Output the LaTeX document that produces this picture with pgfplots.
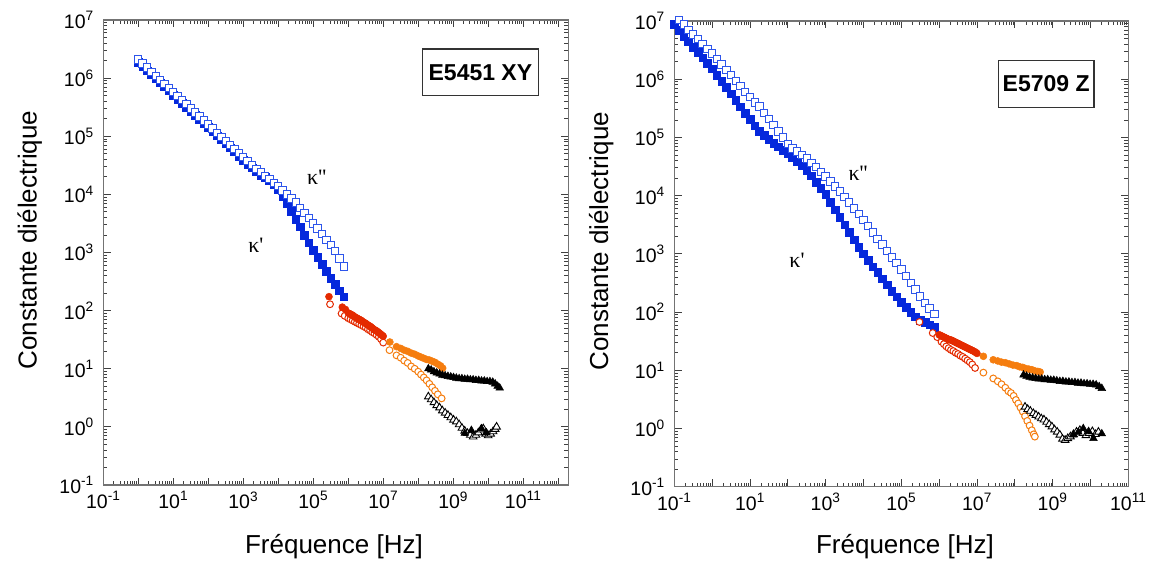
\documentclass[border=0pt]{standalone}
\usepackage{fontspec}
\setmainfont{Liberation Sans}
\newfontfamily\serifk{Liberation Serif}
\usepackage{pgfplots}
\pgfplotsset{compat=1.18}
\definecolor{blueF}{RGB}{5,40,220}
\definecolor{blueO}{RGB}{45,85,235}
\definecolor{redC}{RGB}{228,42,0}
\definecolor{oraC}{RGB}{245,125,15}
\pgfplotsset{
  fsq/.style={only marks, mark=square*, mark size=3.8pt, color=blueF, mark options={line width=0.5pt}},
  osq/.style={only marks, mark=square*, mark size=3.7pt, mark options={draw=blueO, fill=white, line width=1pt}},
  fci/.style={only marks, mark=*, mark size=3.5pt, color=#1, mark options={line width=0.5pt}},
  oci/.style={only marks, mark=*, mark size=3.4pt, mark options={draw=#1, fill=white, line width=1pt}},
  ftr/.style={only marks, mark=triangle*, mark size=4.4pt, color=black, mark options={line width=0.5pt}},
  otr/.style={only marks, mark=triangle*, mark size=4.4pt, mark options={draw=black, fill=white, line width=0.9pt}},
}
\tikzset{
  kap/.style={font=\serifk\fontsize{22}{22}\selectfont, text=black},
  tbox/.style={draw=black!80, line width=1.2pt, fill=white, inner sep=0pt, font=\bfseries\fontsize{23}{23}\selectfont},
}
\begin{document}
\begin{tikzpicture}
\useasboundingbox (0,0) rectangle (1152pt,563pt);
% ---------------- left panel ----------------
\begin{axis}[at={(103.3pt,78pt)}, anchor=south west,
  xmode=log, ymode=log, scale only axis, clip=false,
  width=465pt, height=465pt,
  xmin=0.1, xmax=1.95e12, ymin=0.1, ymax=1e7,
  xtickten={-1,0,1,2,3,4,5,6,7,8,9,10,11,12},
  xticklabels={{10\textsuperscript{-1}},{},{10\textsuperscript{1}},{},{10\textsuperscript{3}},{},{10\textsuperscript{5}},{},{10\textsuperscript{7}},{},{10\textsuperscript{9}},{},{10\textsuperscript{11}},{}},
  ytickten={-1,0,1,2,3,4,5,6,7},
  yticklabels={{10\textsuperscript{-1}},{10\textsuperscript{0}},{10\textsuperscript{1}},{10\textsuperscript{2}},{10\textsuperscript{3}},{10\textsuperscript{4}},{10\textsuperscript{5}},{10\textsuperscript{6}},{10\textsuperscript{7}}},
  axis line style={black!55, line width=1.4pt},
  every tick/.style={black!75, line width=0.8pt},
  major tick length=7.5pt, minor tick length=4pt,
  tick align=inside, xtick pos=both, ytick pos=both,
  tick label style={font=\fontsize{19.5}{20}\selectfont},
  yticklabel style={xshift=-6pt},
  xticklabel style={yshift=-3pt},
  xlabel={Fréquence [Hz]}, ylabel={Constante diélectrique},
  xlabel style={font=\fontsize{26}{30}\selectfont, at={(axis description cs:0.496,-0.133)}, anchor=center},
  ylabel style={font=\fontsize{26}{30}\selectfont, at={(axis description cs:-0.158,0.527)}, anchor=center},
]
\addplot[fsq] table {
1 1.862e6
1.334 1.585e6
1.778 1.349e6
2.371 1.148e6
3.162 9.772e5
4.217 8.318e5
5.623 7.079e5
7.499 6.026e5
10 5.129e5
13.34 4.365e5
17.78 3.715e5
23.71 3.162e5
31.62 2.692e5
42.17 2.291e5
56.23 1.950e5
74.99 1.660e5
100 1.413e5
133.4 1.202e5
177.8 1.023e5
237.1 8.710e4
316.2 7.413e4
421.7 6.310e4
562.3 5.370e4
749.9 4.571e4
1000 3.890e4
1334 3.311e4
1778 2.884e4
2371 2.455e4
3162 2.138e4
4217 1.950e4
5623 1.738e4
7499 1.479e4
1e4 1.202e4
1.334e4 9.120e3
1.778e4 6.918e3
2.371e4 5.129e3
3.162e4 3.715e3
4.217e4 2.754e3
5.623e4 1.995e3
7.499e4 1.479e3
1e5 1.096e3
1.334e5 8.318e2
1.778e5 6.310e2
2.371e5 4.786e2
3.162e5 3.631e2
4.217e5 2.818e2
5.623e5 2.188e2
7.499e5 1.738e2
};
\addplot[osq] table {
1 2.089e6
1.334 1.778e6
1.778 1.514e6
2.371 1.288e6
3.162 1.096e6
4.217 9.333e5
5.623 7.943e5
7.499 6.761e5
10 5.754e5
13.34 4.898e5
17.78 4.169e5
23.71 3.548e5
31.62 3.020e5
42.17 2.570e5
56.23 2.188e5
74.99 1.862e5
100 1.585e5
133.4 1.349e5
177.8 1.148e5
237.1 9.772e4
316.2 8.318e4
421.7 7.079e4
562.3 6.026e4
749.9 5.129e4
1000 4.365e4
1334 3.715e4
1778 3.236e4
2371 2.754e4
3162 2.399e4
4217 2.089e4
5623 1.820e4
7499 1.585e4
1e4 1.380e4
1.334e4 1.175e4
1.778e4 1.0e4
2.371e4 8.511e3
3.162e4 7.244e3
4.217e4 5.888e3
5.623e4 4.786e3
7.499e4 3.890e3
1e5 3.162e3
1.334e5 2.570e3
1.778e5 2.089e3
2.371e5 1.660e3
3.162e5 1.349e3
4.217e5 1.072e3
5.623e5 7.943e2
7.499e5 5.754e2
};
\addplot[oci=redC] table {
3.020e5 128.8
6.457e5 89.13
7.943e5 81.28
1e6 74.13
1.155e6 70.79
1.334e6 67.61
1.540e6 64.57
1.778e6 61.66
2.054e6 58.88
2.371e6 56.23
2.738e6 53.70
3.162e6 51.29
3.652e6 47.86
4.217e6 45.71
4.870e6 42.66
5.623e6 40.74
6.494e6 38.02
7.499e6 35.48
8.660e6 32.36
1e7 28.18
};
\addplot[fci=redC] table {
2.818e5 173.8
6.761e5 114.8
8.318e5 104.7
1e6 91.20
1.075e6 89.1
1.155e6 87.10
1.241e6 85.1
1.334e6 83.18
1.433e6 80.4
1.540e6 77.62
1.655e6 75.9
1.778e6 74.13
1.911e6 72.4
2.054e6 70.79
2.207e6 69.2
2.371e6 67.61
2.548e6 65.3
2.738e6 63.10
2.943e6 61.7
3.162e6 60.26
3.398e6 58.2
3.652e6 56.23
3.924e6 55.0
4.217e6 53.70
4.532e6 51.9
4.870e6 50.12
5.233e6 48.4
5.623e6 46.77
6.043e6 45.7
6.494e6 44.67
6.978e6 43.2
7.499e6 41.69
8.058e6 40.3
8.660e6 38.90
9.306e6 37.6
1e7 36.31
};
\addplot[oci=oraC] table {
1.514e7 20.89
2.399e7 16.98
3.162e7 15.49
3.981e7 13.80
5.012e7 12.59
6.310e7 10.96
7.943e7 10.0
1e8 8.913
1.202e8 7.943
1.445e8 7.079
1.738e8 6.310
2.089e8 5.495
2.512e8 4.786
3.020e8 4.169
3.631e8 3.631
4.677e8 3.090
};
\addplot[fci=oraC] table {
1.549e7 28.84
2.399e7 23.99
3.162e7 22.39
3.981e7 20.89
5.012e7 19.95
6.310e7 18.62
7.943e7 17.78
1e8 16.60
1.202e8 15.85
1.445e8 15.14
1.738e8 14.45
2.089e8 14.13
2.512e8 13.49
3.020e8 12.88
3.631e8 12.02
4.365e8 11.22
5.012e8 10.23
};
\addplot[otr] table {
1.950e8 3.311
2.344e8 2.951
2.818e8 2.630
3.388e8 2.344
4.074e8 2.138
4.898e8 1.905
5.888e8 1.738
7.079e8 1.585
8.511e8 1.445
1.023e9 1.318
1.230e9 1.230
1.479e9 1.096
1.778e9 0.9550
2.138e9 0.8511
2.570e9 0.7762
3.090e9 0.7244
3.715e9 0.6761
4.467e9 0.7244
5.248e9 0.7943
6.166e9 0.8913
7.244e9 0.9333
8.511e9 0.7586
1e10 0.7079
1.175e10 0.7586
1.380e10 0.8318
1.585e10 0.9120
1.738e10 1.0
};
\addplot[ftr] table {
1.950e8 10.0
2.344e8 9.550
2.818e8 8.913
3.388e8 8.511
4.074e8 8.128
4.898e8 7.762
5.888e8 7.586
7.079e8 7.413
8.511e8 7.244
1.023e9 7.079
1.230e9 6.918
1.479e9 6.761
1.778e9 6.761
2.138e9 6.607
2.570e9 6.607
3.090e9 6.457
3.715e9 6.457
4.467e9 6.310
5.370e9 6.310
6.457e9 6.166
7.762e9 6.166
9.333e9 6.026
1.122e10 6.026
1.349e10 5.888
1.585e10 5.495
1.862e10 5.012
2.138e10 4.677
2.138e9 0.7762
3.311e9 0.8710
6.457e9 0.9333
8.913e9 0.7943
};
\node[kap] at (axis cs:1.26e5,2.0e4) {κ''};
\node[kap] at (axis cs:2.3e3,1.35e3) {κ'};
\node[tbox, minimum width=115.6pt, minimum height=46.7pt] at (axis description cs:0.811,0.8875) {E5451 XY};
\end{axis}
% ---------------- right panel ----------------
\begin{axis}[at={(674.3pt,76.3pt)}, anchor=south west,
  xmode=log, ymode=log, scale only axis, clip=false,
  width=454pt, height=465.7pt,
  xmin=0.1, xmax=1e11, ymin=0.1, ymax=1e7,
  xtickten={-1,0,1,2,3,4,5,6,7,8,9,10,11},
  xticklabels={{10\textsuperscript{-1}},{},{10\textsuperscript{1}},{},{10\textsuperscript{3}},{},{10\textsuperscript{5}},{},{10\textsuperscript{7}},{},{10\textsuperscript{9}},{},{10\textsuperscript{11}}},
  ytickten={-1,0,1,2,3,4,5,6,7},
  yticklabels={{10\textsuperscript{-1}},{10\textsuperscript{0}},{10\textsuperscript{1}},{10\textsuperscript{2}},{10\textsuperscript{3}},{10\textsuperscript{4}},{10\textsuperscript{5}},{10\textsuperscript{6}},{10\textsuperscript{7}}},
  axis line style={black!55, line width=1.4pt},
  every tick/.style={black!75, line width=0.8pt},
  major tick length=7.5pt, minor tick length=4pt,
  tick align=inside, xtick pos=both, ytick pos=both,
  tick label style={font=\fontsize{19.5}{20}\selectfont},
  yticklabel style={xshift=-6pt},
  xticklabel style={yshift=-3pt},
  xlabel={Fréquence [Hz]}, ylabel={Constante diélectrique},
  xlabel style={font=\fontsize{26}{30}\selectfont, at={(axis description cs:0.508,-0.129)}, anchor=center},
  ylabel style={font=\fontsize{26}{30}\selectfont, at={(axis description cs:-0.161,0.527)}, anchor=center},
]
\addplot[fsq] table {
0.1 8.710e6
0.1334 6.918e6
0.1778 5.495e6
0.2371 4.467e6
0.3162 3.548e6
0.4217 2.884e6
0.5623 2.344e6
0.7499 1.862e6
1 1.514e6
1.334 1.175e6
1.778 9.333e5
2.371 7.244e5
3.162 5.623e5
4.217 4.365e5
5.623 3.388e5
7.499 2.630e5
10 2.042e5
13.34 1.585e5
17.78 1.288e5
23.71 1.096e5
31.62 9.333e4
42.17 7.943e4
56.23 6.918e4
74.99 6.026e4
100 5.248e4
133.4 4.571e4
177.8 3.802e4
237.1 3.236e4
316.2 2.754e4
421.7 2.188e4
562.3 1.698e4
749.9 1.349e4
1000 1.047e4
1334 7.762e3
1778 5.754e3
2371 4.266e3
3162 3.162e3
4217 2.344e3
5623 1.738e3
7499 1.288e3
1e4 1.0e3
1.334e4 7.762e2
1.778e4 6.026e2
2.371e4 4.786e2
3.162e4 3.715e2
4.217e4 2.951e2
5.623e4 2.291e2
7.499e4 1.820e2
1e5 1.479e2
1.334e5 1.202e2
1.778e5 1.0e2
2.371e5 83.18
3.162e5 72.44
4.217e5 66.07
5.623e5 60.26
7.499e5 54.95
};
\addplot[osq] table {
0.1334 1.047e7
0.1778 8.710e6
0.2371 7.079e6
0.3162 5.888e6
0.4217 4.898e6
0.5623 4.074e6
0.7499 3.311e6
1 2.754e6
1.334 2.239e6
1.778 1.778e6
2.371 1.445e6
3.162 1.175e6
4.217 9.333e5
5.623 7.586e5
7.499 6.026e5
10 4.898e5
13.34 3.981e5
17.78 3.388e5
23.71 2.630e5
31.62 2.089e5
42.17 1.622e5
56.23 1.259e5
74.99 1.0e5
100 7.762e4
133.4 6.457e4
177.8 5.754e4
237.1 5.012e4
316.2 4.365e4
421.7 3.631e4
562.3 3.090e4
749.9 2.570e4
1000 2.138e4
1334 1.738e4
1778 1.445e4
2371 1.175e4
3162 9.550e3
4217 7.586e3
5623 6.026e3
7499 4.786e3
1e4 3.802e3
1.334e4 3.020e3
1.778e4 2.344e3
2.371e4 1.820e3
3.162e4 1.445e3
4.217e4 1.122e3
5.623e4 8.710e2
7.499e4 6.918e2
1e5 5.370e2
1.334e5 4.169e2
1.778e5 3.162e2
2.371e5 2.455e2
3.162e5 1.862e2
4.217e5 1.445e2
5.623e5 1.148e2
7.499e5 93.33
};
\addplot[oci=redC] table {
3.020e5 67.61
6.761e5 43.65
8.913e5 37.15
1.155e6 30.90
1.334e6 28.18
1.540e6 25.70
1.778e6 23.99
2.054e6 22.39
2.371e6 21.38
2.738e6 19.95
3.162e6 19.05
3.652e6 17.78
4.217e6 16.98
4.870e6 15.85
5.623e6 14.79
6.494e6 13.80
7.499e6 12.59
8.913e6 10.96
};
\addplot[fci=redC] table {
1e6 40.74
1.075e6 39.8
1.155e6 38.90
1.241e6 38.0
1.334e6 37.15
1.433e6 36.3
1.540e6 35.48
1.655e6 34.7
1.778e6 33.88
1.911e6 33.5
2.054e6 33.11
2.207e6 32.4
2.371e6 31.62
2.548e6 30.9
2.738e6 30.20
2.943e6 29.5
3.162e6 28.84
3.398e6 28.2
3.652e6 27.54
3.924e6 26.9
4.217e6 26.30
4.532e6 25.7
4.870e6 25.12
5.233e6 24.5
5.623e6 23.99
6.043e6 23.4
6.494e6 22.91
6.978e6 22.4
7.499e6 21.88
8.058e6 21.4
8.660e6 20.89
9.306e6 20.2
1e7 19.50
};
\addplot[oci=oraC] table {
1.479e7 9.120
2.692e7 7.244
3.548e7 6.457
4.467e7 5.754
5.623e7 5.012
6.761e7 4.365
7.943e7 4.074
9.333e7 3.631
1.072e8 3.090
1.230e8 2.692
1.413e8 2.291
1.622e8 1.950
1.862e8 1.622
2.138e8 1.349
2.455e8 1.122
2.818e8 0.9333
3.162e8 0.7943
3.388e8 0.7244
};
\addplot[fci=oraC] table {
1.479e7 17.38
2.692e7 15.14
3.548e7 14.45
4.467e7 13.80
5.623e7 13.49
7.079e7 12.88
8.913e7 12.30
1.122e8 12.02
1.349e8 11.48
1.622e8 11.22
1.950e8 10.72
2.344e8 10.47
2.818e8 10.23
3.388e8 9.772
4.074e8 9.550
4.677e8 9.333
};
\addplot[otr] table {
1.862e8 2.344
2.188e8 2.138
2.570e8 1.995
3.090e8 1.820
3.631e8 1.698
4.266e8 1.585
5.012e8 1.479
5.888e8 1.413
6.918e8 1.288
8.128e8 1.175
9.550e8 1.072
1.122e9 0.9550
1.318e9 0.8710
1.549e9 0.7762
1.820e9 0.6607
2.138e9 0.6310
2.512e9 0.6761
2.951e9 0.7244
3.548e9 0.7943
4.266e9 0.8710
5.248e9 0.9333
6.310e9 0.8318
7.586e9 0.7586
9.120e9 0.8318
1.122e10 0.8913
1.349e10 0.7943
1.622e10 0.8710
};
\addplot[ftr] table {
1.698e8 8.318
2.042e8 7.943
2.455e8 7.586
2.951e8 7.413
3.548e8 7.244
4.266e8 7.079
5.129e8 7.079
6.166e8 6.918
7.413e8 6.918
8.913e8 6.761
1.072e9 6.761
1.288e9 6.607
1.549e9 6.457
1.862e9 6.457
2.239e9 6.310
2.692e9 6.310
3.236e9 6.166
3.890e9 6.166
4.677e9 6.026
5.623e9 6.026
6.761e9 5.888
8.128e9 5.888
9.772e9 5.754
1.175e10 5.754
1.413e10 5.623
1.698e10 5.248
1.995e10 4.898
3.548e9 0.7762
4.786e9 0.8710
6.457e9 1.0
8.913e9 0.8913
1.202e10 0.6761
1.995e10 0.8128
};
\node[kap] at (axis cs:7.2e3,2.45e4) {κ''};
\node[kap] at (axis cs:1.75e2,7.8e2) {κ'};
\node[tbox, minimum width=95.7pt, minimum height=47pt] at (axis description cs:0.819,0.865) {E5709 Z};
\end{axis}
\end{tikzpicture}
\end{document}
